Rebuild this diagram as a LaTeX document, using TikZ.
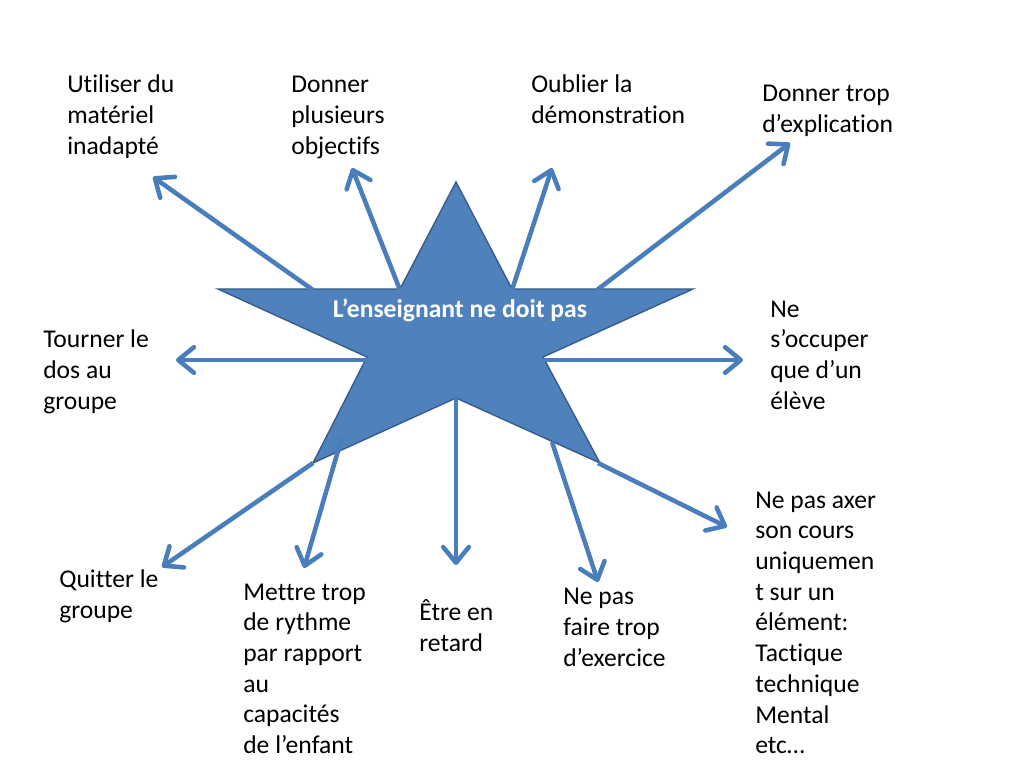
\documentclass[tikz,border=0pt]{standalone}
\usepackage{fontspec}
\setmainfont{Carlito}[Ligatures=NoCommon]
\usetikzlibrary{arrows.meta}
\definecolor{starblue}{HTML}{4F81BD}
\definecolor{stardark}{HTML}{385D8A}
\definecolor{arrowblue}{HTML}{4A7EBB}
\tikzset{
  fleche/.style={draw=arrowblue, line width=3.2pt, -{Straight Barb[length=11pt,width=18pt,round]}},
  etiquette/.style={anchor=base west, align=left, inner sep=0pt, font=\fontsize{18}{21.6}\selectfont},
}

\begin{document}
\begin{tikzpicture}[x=0.703125pt,y=-0.703125pt]
\useasboundingbox (0,0) rectangle (1024,768);
\draw[fill=starblue, draw=stardark, line width=1pt] (456,182)--(512,289)--(693,289)--(543,357)--(600,463)--(456,398)--(313,463)--(367,357)--(218,289)--(400,289)--cycle;
\node[anchor=base, inner sep=0pt, text=white, font=\bfseries\fontsize{18}{21.6}\selectfont] (centre) at (460,317) {L’enseignant ne doit pas};
\foreach \i/\xa/\ya/\xb/\yb in {1/313/290/153/177, 2/400/290/352/168, 3/512/290/552/168,
  4/597/290/790/143, 5/543/360/743/360, 6/367/360/176/360,
  7/313/463/162/567, 8/342/437/304/568, 9/456/398/456/565,
  10/552/442/598/582, 11/598/463/727/527}{
\coordinate (dep\i) at (\xa,\ya);
\coordinate (arr\i) at (\xb,\yb);
\draw[fleche] (dep\i) -- (arr\i);
}
% labels, anchored on the baseline of their last line
\node[etiquette] (materiel) at (67,154.4) {Utiliser du\\matériel\\inadapté};
\node[etiquette] (objectifs) at (291,154.4) {Donner\\plusieurs\\objectifs};
\node[etiquette] (demo) at (531,123.7) {Oublier la\\démonstration};
\node[etiquette] (explication) at (762,132.7) {Donner trop\\d’explication};
\node[etiquette] (eleve) at (770,409.2) {Ne\\s’occuper\\que d’un\\élève};
\node[etiquette] (dos) at (43,409.4) {Tourner le\\dos au\\groupe};
\node[etiquette] (quitter) at (59,618.7) {Quitter le\\groupe};
\node[etiquette] (rythme) at (243,753.6) {Mettre trop\\de rythme\\par rapport\\au\\capacités\\de l’enfant};
\node[etiquette] (retard) at (419,651.7) {Être en\\retard};
\node[etiquette] (exercice) at (563,666.4) {Ne pas\\faire trop\\d’exercice};
\node[etiquette] (axer) at (755,753.8) {Ne pas axer\\son cours\\uniquemen\\t sur un\\élément:\\Tactique\\technique\\Mental\\etc…};
\end{tikzpicture}
\end{document}
